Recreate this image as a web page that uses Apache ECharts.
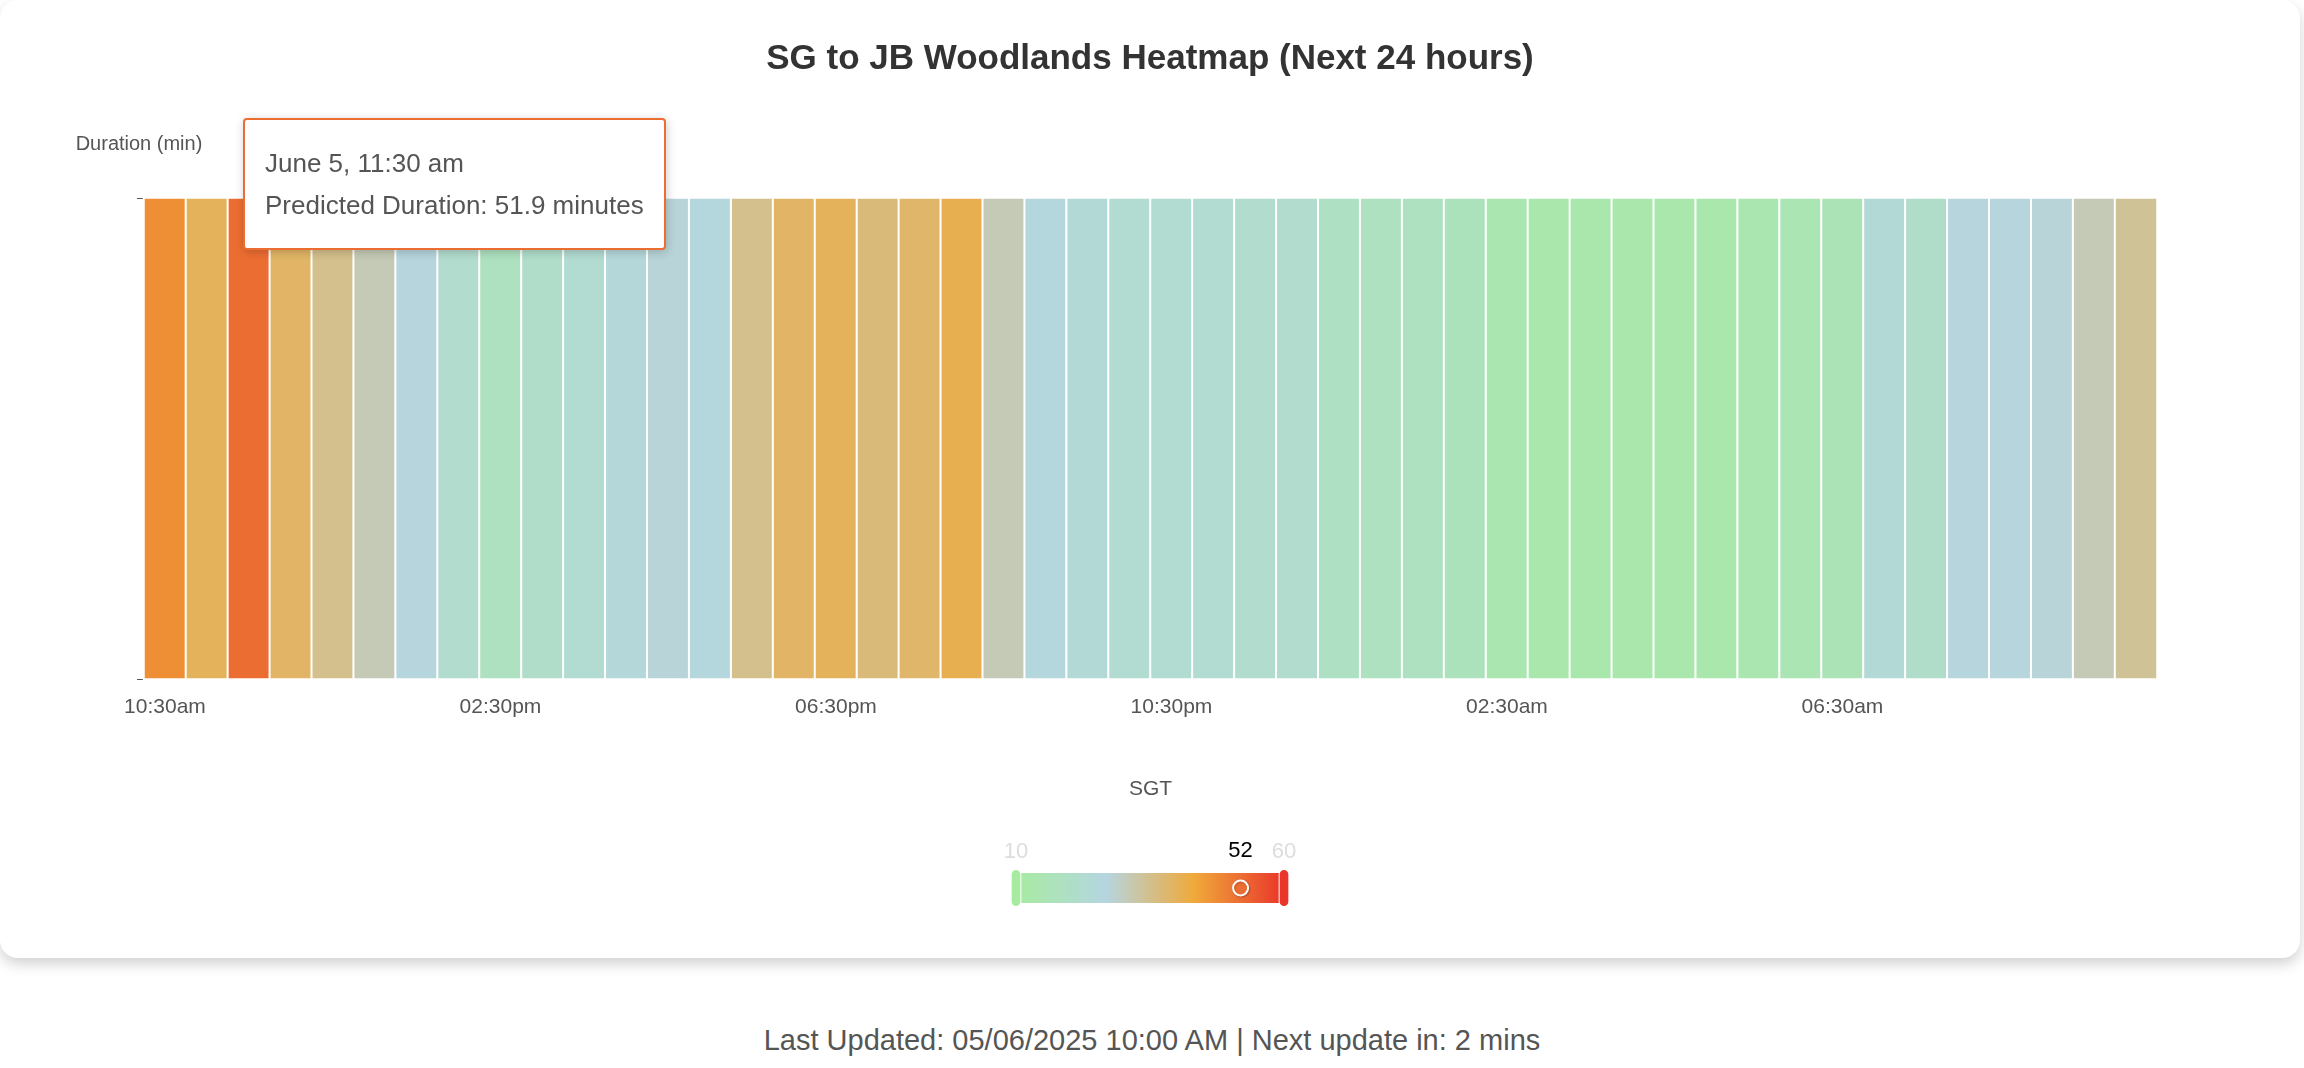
<!DOCTYPE html>
<html><head><meta charset="utf-8">
<script src="https://cdn.jsdelivr.net/npm/echarts@6/dist/echarts.min.js"></script>
<style>
html,body{margin:0;padding:0;background:#fff;font-family:"Helvetica Neue",Arial,"Liberation Sans",sans-serif;}
#card{position:absolute;left:0;top:0;width:2300px;height:958px;background:#fff;border-radius:18px;box-shadow:0 6px 14px rgba(0,0,0,0.18);}
#chart{width:2300px;height:958px;}
#footer{position:absolute;top:1024px;left:0;width:2304px;text-align:center;font-size:29px;color:#555;}
</style></head>
<body>
<div id="card"><div id="chart"></div></div>
<div id="footer">Last Updated: 05/06/2025 10:00 AM | Next update in: 2 mins</div>
<script>
const times = ["10:30am","11:00am","11:30am","12:00pm","12:30pm","01:00pm","01:30pm","02:00pm",
"02:30pm","03:00pm","03:30pm","04:00pm","04:30pm","05:00pm","05:30pm","06:00pm",
"06:30pm","07:00pm","07:30pm","08:00pm","08:30pm","09:00pm","09:30pm","10:00pm",
"10:30pm","11:00pm","11:30pm","12:00am","12:30am","01:00am","01:30am","02:00am",
"02:30am","03:00am","03:30am","04:00am","04:30am","05:00am","05:30am","06:00am",
"06:30am","07:00am","07:30am","08:00am","08:30am","09:00am","09:30am","10:00am"];
const dayLabels = ["June 5","June 5","June 5","June 5","June 5","June 5","June 5","June 5",
"June 5","June 5","June 5","June 5","June 5","June 5","June 5","June 5",
"June 5","June 5","June 5","June 5","June 5","June 5","June 5","June 5",
"June 5","June 5","June 5","June 6","June 6","June 6","June 6","June 6",
"June 6","June 6","June 6","June 6","June 6","June 6","June 6","June 6",
"June 6","June 6","June 6","June 6","June 6","June 6","June 6","June 6"];
const durations = [47,40,51.9,39,35,31,27,22,
18,21,23,25,27.5,26,35,39,
40,37,38.5,41,31,26,24,23,
23,23,22,22,19,18,18,17,
14,13,13,13,13,13.5,14,15,
16,24,21,27,27,27.5,31,34];
const yCats = [""];
const chart = echarts.init(document.getElementById('chart'));
const data = durations.map((v,i)=>[i,0,v]);
chart.setOption({
  animation:false,
  title:{text:"SG to JB Woodlands Heatmap (Next 24 hours)",left:'center',top:37,
    textStyle:{fontSize:35,fontWeight:'bold',color:'#333'}},
  tooltip:{trigger:'item',position:[243,118],padding:[22,20],borderWidth:2,
    textStyle:{fontSize:26,color:'#555',lineHeight:42},
    formatter:p=>{const i=p.data[0];const t=times[i].replace(/^0/,'').replace(/(am|pm)$/,' $1');
      return dayLabels[i]+", "+t+"<br/>Predicted Duration: "+p.data[2]+" minutes";}},
  grid:{left:144,right:143,top:198,height:481},
  xAxis:{type:'category',data:times,name:'SGT',nameLocation:'middle',nameGap:100,
    nameTextStyle:{fontSize:21,color:'#555'},
    axisLabel:{interval:7,fontSize:21,color:'#555',margin:18},
    axisTick:{interval:7,length:7},splitArea:{show:false}},
  yAxis:{type:'category',data:yCats,name:'Duration (min)',
    nameTextStyle:{fontSize:20,color:'#555',padding:[0,10,12,0]},nameGap:32,
    axisLine:{show:false},axisTick:{show:true,length:7},axisLabel:{show:false}},
  visualMap:{type:'continuous',min:10,max:60,calculable:true,orient:'horizontal',
    left:'center',top:826,itemWidth:30,itemHeight:268,
    textStyle:{color:'#ddd',fontSize:22},
    inRange:{color:['#a6eba0','#b5d6e0','#f0a93a','#e9352a']}},
  series:[{type:'heatmap',data:data,itemStyle:{borderColor:'#fff',borderWidth:2},
    emphasis:{disabled:true}}]
});
setTimeout(()=>{
  const zr = chart.getZr();
  const px = chart.convertToPixel({seriesIndex:0},[2,0]);
  zr.handler.dispatch('mousemove',{zrX:px[0],zrY:px[1]+150,offsetX:px[0],offsetY:px[1]+150});
  chart.dispatchAction({type:'showTip',seriesIndex:0,dataIndex:2});
  function walk(el){
    const t = el.style && el.style.text!=null ? String(el.style.text) : null;
    if(t==='10'||t==='60'){
      if(el.stopAnimation) el.stopAnimation();
      el.ignore=false; el.invisible=false;
      el.useStyle(Object.assign({},el.style,{opacity:1,fill:'#dddddd'}));
      el.markRedraw ? el.markRedraw() : el.dirty();
    }
    if(t==='52'){ el.setStyle({fill:'#000',opacity:1}); el.markRedraw ? el.markRedraw() : el.dirty(); }
    if(el.childrenRef) el.childrenRef().forEach(walk);
  }
  setTimeout(()=>{ try{ zr.storage.getRoots().forEach(walk); zr.refreshImmediately(); }catch(e){} },300);
},100);
</script>
</body></html>
